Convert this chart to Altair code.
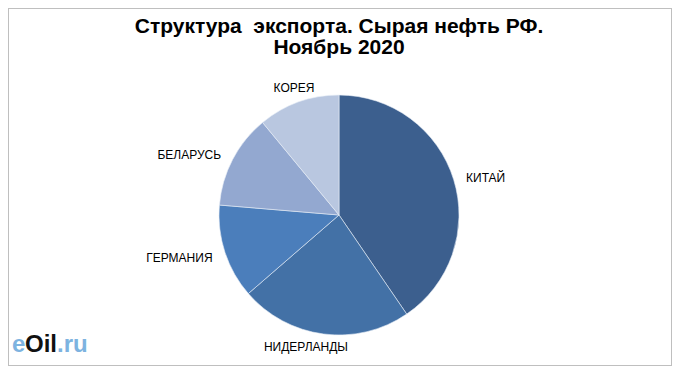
import altair as alt
import pandas as pd

countries = ["КИТАЙ", "НИДЕРЛАНДЫ", "ГЕРМАНИЯ", "БЕЛАРУСЬ", "КОРЕЯ"]
shares = [40.5, 23.2, 12.7, 12.7, 11.0]
colors = ["#3C5F8E", "#4371A6", "#4B7EBB", "#93A8D0", "#B9C7E0"]
title_lines = ["Структура\u00a0 экспорта. Сырая нефть РФ.", "Ноябрь 2020"]

df = pd.DataFrame({"country": countries, "share": shares, "idx": list(range(len(countries)))})
total = float(sum(shares))

W, H = 664, 358
CX, CY = 331, 207
R = 120
LR = 133

theta_scale = alt.Scale(domain=[0, total], range=[0, 6.283185307179586])

base = alt.Chart(df).transform_window(
    end="sum(share)", sort=[alt.SortField("idx")], frame=[None, 0]
).transform_calculate(
    start="datum.end - datum.share", mid="datum.end - datum.share/2"
)

arcs = base.mark_arc(outerRadius=R, stroke="#E8EEF6", strokeWidth=0.6).encode(
    theta=alt.Theta("start:Q", scale=theta_scale, stack=None),
    theta2="end:Q",
    color=alt.Color("country:N", scale=alt.Scale(domain=countries, range=colors), legend=None),
    x=alt.value(CX), y=alt.value(CY),
)

def labels(names, align, dx=0, dy=0, radius=LR):
    return base.transform_filter(
        alt.FieldOneOfPredicate(field="country", oneOf=names)
    ).mark_text(align=align, baseline="middle", fontSize=12, font="Liberation Sans",
                color="#000000", dx=dx, dy=dy).encode(
        theta=alt.Theta("mid:Q", scale=theta_scale, stack=None),
        radius=alt.value(radius),
        text="country:N",
        x=alt.value(CX), y=alt.value(CY),
    )

lab_right = labels(["КИТАЙ"], "left", dy=2)
lab_left = labels(["ГЕРМАНИЯ", "БЕЛАРУСЬ"], "right", dy=2)
lab_bottom = labels(["НИДЕРЛАНДЫ"], "center", dx=-16)
lab_top = labels(["КОРЕЯ"], "center", dy=-2)

tdf = pd.DataFrame({"t": title_lines, "line": [0, 1]})
title = alt.Chart(tdf).mark_text(fontSize=21, fontWeight="bold", font="Liberation Sans",
                                 baseline="middle", align="center", color="#000000").encode(
    text="t:N",
    x=alt.value(W / 2 - 1),
    y=alt.Y("line:Q", scale=alt.Scale(domain=[0, 1], range=[19, 40]), axis=None),
)

logo_parts = ["e", "Oil", ".ru"]
logo_colors = ["#7DB3E0", "#111111", "#7DB3E0"]

def logo_part(i, x, weight="bold"):
    return alt.Chart(pd.DataFrame({"p": [logo_parts[i]]})).mark_text(
        fontSize=24, font="Liberation Sans", align="left", baseline="alphabetic",
        color=logo_colors[i], fontWeight=weight,
    ).encode(text="p:N", x=alt.value(x), y=alt.value(344))

logo = alt.layer(logo_part(0, 4), logo_part(1, 17), logo_part(2, 49))

chart = alt.layer(arcs, lab_right, lab_left, lab_bottom, lab_top, title, logo).resolve_scale(
    x="independent", y="independent", color="independent"
).properties(
    width=W, height=H, padding=0, autosize=alt.AutoSizeParams(type="none"),
    background="white",
).configure_view(stroke="#BFBFBF", strokeWidth=2)

chart.save("out.html", embed_options={"renderer": "svg", "actions": False})
